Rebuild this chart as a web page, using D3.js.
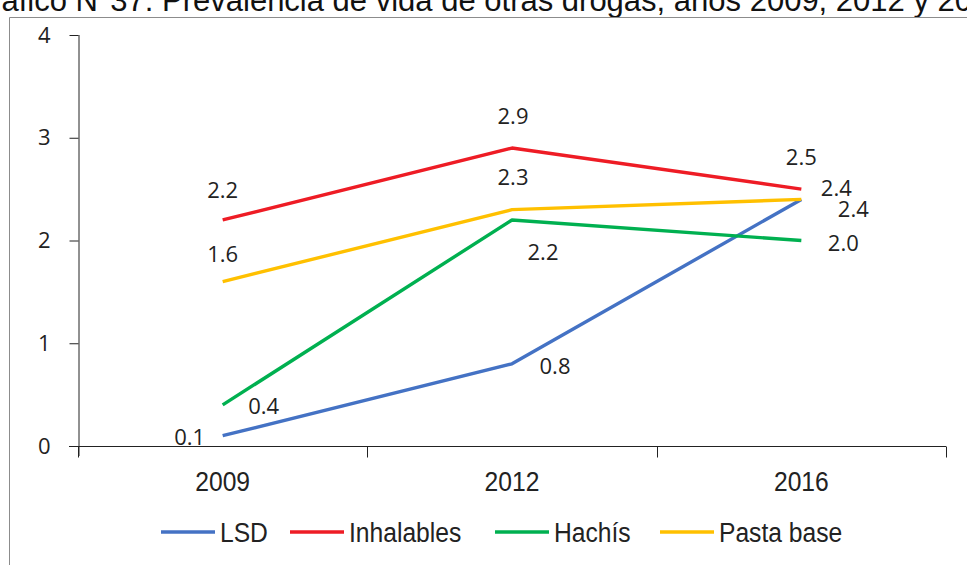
<!DOCTYPE html>
<html>
<head>
<meta charset="utf-8">
<script src="https://cdn.jsdelivr.net/npm/d3@7"></script>
<style>
  html, body { margin: 0; padding: 0; background: #fff; }
  svg { display: block; }
</style>
</head>
<body>
<svg id="chart" width="967" height="565"></svg>
<script>
// Prevalencia de vida de otras drogas
const years = ["2009", "2012", "2016"];
const seriesNames = ["LSD", "Inhalables", "Hachís", "Pasta base"];
const lsd = [0.1, 0.8, 2.4];
const inhalables = [2.2, 2.9, 2.5];
const hachis = [0.4, 2.2, 2.0];
const pastaBase = [1.6, 2.3, 2.4];
const yTicks = [0, 1, 2, 3, 4];
const titleText = "Gráfico N°37: Prevalencia de vida de otras drogas, años 2009, 2012 y 2016";

const colors = ["#4472C4", "#EE1C25", "#00B050", "#FFC000"];
const seriesValues = [lsd, inhalables, hachis, pastaBase];

// label centre offsets (dx, dy) from each point
const labelOffsets = [
  [[-33, 1], [43, 2], [35, -11]],
  [[0, -30], [1, -32], [0, -32]],
  [[41, 1], [31, 32], [42, 3]],
  [[0, -28], [1, -33], [52, 10]]
];

const svg = d3.select("#chart");

// title, partly outside the top of the canvas
svg.append("text")
  .attr("x", -33).attr("y", 11)
  .attr("font-family", "Liberation Sans, Arial, sans-serif")
  .attr("font-size", 31)
  .attr("fill", "#111")
  .text(titleText);

// chart frame
svg.append("path")
  .attr("d", "M9.5,600 V17.5 H1000")
  .attr("fill", "none")
  .attr("stroke", "#8c8c8c")
  .attr("stroke-width", 1);

const x = d3.scaleBand().domain(years).range([78, 946]).padding(0);
const y = d3.scaleLinear().domain([0, 4]).range([446, 35]);

const labelFont = "Open Sans, Noto Sans, sans-serif";
const narrowFont = "Liberation Sans, Arial, sans-serif";
const squeeze = "scale(0.88,1)";

// y axis
const yAxis = svg.append("g")
  .attr("transform", "translate(78.5,0)")
  .call(d3.axisLeft(y).tickValues(yTicks).tickFormat(d3.format("d")).tickSize(9).tickSizeOuter(0));
yAxis.select(".domain").attr("stroke", "#222").attr("d", "M0.5,35 V456");
yAxis.selectAll(".tick line").attr("stroke", "#222");
yAxis.selectAll(".tick text")
  .attr("x", -28)
  .attr("font-family", labelFont)
  .attr("font-size", 22)
  .attr("fill", "#222");

// x axis
const xAxis = svg.append("g")
  .attr("transform", "translate(0,446.5)")
  .call(d3.axisBottom(x).tickSize(0).tickSizeOuter(0));
xAxis.select(".domain").attr("stroke", "#222").attr("d", "M69,0 H946");
xAxis.selectAll(".tick text")
  .attr("y", 34.5)
  .attr("dy", "0.35em")
  .attr("transform", squeeze)
  .attr("font-family", narrowFont)
  .attr("font-size", 28)
  .attr("fill", "#222");
// category boundary ticks
const boundaries = [x.range()[0]].concat(years.map(d => x(d) + x.bandwidth()));
xAxis.selectAll("line.bound")
  .data(boundaries)
  .join("line")
  .attr("class", "bound")
  .attr("x1", d => Math.round(d) + 0.5).attr("x2", d => Math.round(d) + 0.5)
  .attr("y1", 0).attr("y2", 11)
  .attr("stroke", "#222");

const cx = d => x(d) + x.bandwidth() / 2;

const line = d3.line()
  .x((d, i) => cx(years[i]))
  .y(d => y(d));

// series lines
seriesValues.forEach((vals, s) => {
  svg.append("path")
    .datum(vals)
    .attr("d", line)
    .attr("fill", "none")
    .attr("stroke", colors[s])
    .attr("stroke-width", 3.4)
    .attr("stroke-linejoin", "round");
});

// value labels
seriesValues.forEach((vals, s) => {
  vals.forEach((v, i) => {
    const [dx, dy] = labelOffsets[s][i];
    svg.append("text")
      .attr("x", cx(years[i]) + dx)
      .attr("y", y(v) + dy)
      .attr("dy", "0.36em")
      .attr("text-anchor", "middle")
      .attr("font-family", labelFont)
      .attr("font-size", 22)
      .attr("fill", "#222")
      .text(v.toFixed(1));
  });
});

// legend
const legendX = [161, 290, 495, 660];
const legend = svg.append("g").attr("transform", "translate(0,532)");
seriesNames.forEach((name, s) => {
  legend.append("line")
    .attr("x1", legendX[s]).attr("x2", legendX[s] + 54)
    .attr("y1", 0).attr("y2", 0)
    .attr("stroke", colors[s])
    .attr("stroke-width", 3.4);
  legend.append("text")
    .attr("transform", `translate(${legendX[s] + 59},0) ${squeeze}`)
    .attr("dy", "0.35em")
    .attr("font-family", narrowFont)
    .attr("font-size", 28)
    .attr("fill", "#222")
    .text(name);
});
</script>
</body>
</html>
